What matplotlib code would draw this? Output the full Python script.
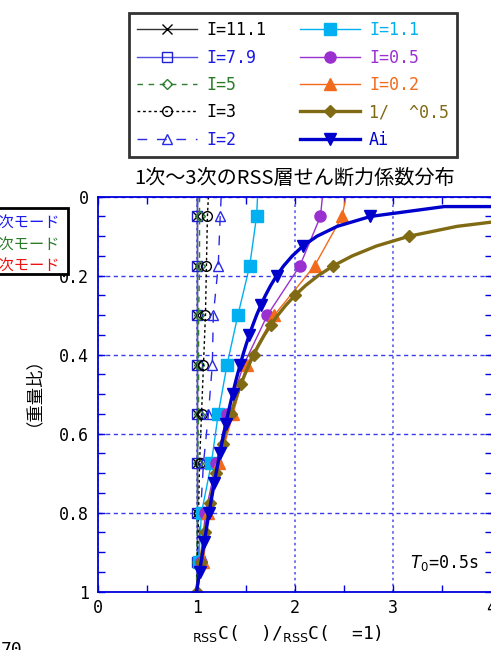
import matplotlib
matplotlib.use('Agg')
import matplotlib.pyplot as plt
from matplotlib.patches import Rectangle
from matplotlib.ticker import MultipleLocator

plt.rcParams['font.family'] = ['DejaVu Sans Mono', 'Noto Sans CJK JP']
plt.rcParams['mathtext.fontset'] = 'dejavusans'
CJK = ['Noto Sans CJK JP', 'DejaVu Sans']

# floor levels (weight ratio alpha) for the RSS results
alpha_i = [0.0, 0.05, 0.175, 0.3, 0.425, 0.55, 0.675, 0.8, 0.925, 1.0]
c_i111 = [1.0, 1.0, 1.0, 1.0, 1.0, 1.0, 1.0, 1.0, 1.0, 1.0]
c_i79 = [1.0, 1.0, 1.0, 1.0, 1.0, 1.0, 1.0, 1.0, 1.0, 1.0]
c_i5 = [1.03, 1.03, 1.03, 1.02, 1.02, 1.02, 1.01, 1.01, 1.0, 1.0]
c_i3 = [1.12, 1.11, 1.10, 1.09, 1.07, 1.05, 1.03, 1.02, 1.01, 1.0]
c_i2 = [1.25, 1.24, 1.22, 1.17, 1.16, 1.12, 1.07, 1.04, 1.02, 1.0]
c_i11 = [1.62, 1.61, 1.54, 1.42, 1.31, 1.22, 1.15, 1.05, 1.02, 1.0]
c_i05 = [2.28, 2.26, 2.05, 1.72, 1.48, 1.31, 1.20, 1.09, 1.04, 1.0]
c_i02 = [2.52, 2.48, 2.20, 1.79, 1.51, 1.37, 1.23, 1.12, 1.07, 1.0]

# reference curves
alpha_c = [0.025, 0.05, 0.075, 0.1, 0.125, 0.15, 0.175, 0.2, 0.225, 0.25,
           0.275, 0.3, 0.325, 0.35, 0.375, 0.4, 0.425, 0.45, 0.475, 0.5,
           0.525, 0.55, 0.575, 0.6, 0.625, 0.65, 0.675, 0.7, 0.725, 0.75,
           0.775, 0.8, 0.825, 0.85, 0.875, 0.9, 0.925, 0.95, 0.975, 1.0]
c_sqrt = [6.325, 4.472, 3.651, 3.162, 2.828, 2.582, 2.390, 2.236, 2.108, 2.000,
          1.907, 1.826, 1.754, 1.690, 1.633, 1.581, 1.534, 1.491, 1.451, 1.414,
          1.380, 1.348, 1.319, 1.291, 1.265, 1.240, 1.217, 1.195, 1.174, 1.155,
          1.136, 1.118, 1.101, 1.085, 1.069, 1.054, 1.040, 1.026, 1.013, 1.000]
alpha_ai = [0.025] + alpha_c
c_ai = [5.0, 3.520, 2.769, 2.431, 2.225, 2.081, 1.973, 1.886, 1.814, 1.753, 1.700,
        1.653, 1.610, 1.572, 1.536, 1.503, 1.472, 1.444, 1.416, 1.390, 1.366,
        1.342, 1.319, 1.298, 1.276, 1.256, 1.236, 1.217, 1.198, 1.180, 1.162,
        1.144, 1.127, 1.110, 1.094, 1.078, 1.062, 1.046, 1.030, 1.015, 1.000]

xticks = [0, 1, 2, 3, 4]
yticks = [0, 0.2, 0.4, 0.6, 0.8, 1]
ytick_labels = ['0', '0.2', '0.4', '0.6', '0.8', '1']
mode_labels = ['1次モード', '2次モード', '3次モード']

fig = plt.figure(figsize=(4.91, 6.5), dpi=100)
ax = fig.add_axes([98.3 / 491, 58.3 / 650, 393.2 / 491, 395 / 650])

mk = slice(1, 9)
ax.plot(c_i111, alpha_i, color='#333333', lw=1, marker='x', ms=7, mec='black',
        markevery=mk, label='I=11.1')
ax.plot(c_i79, alpha_i, color='#5050e0', lw=1, marker='s', ms=7, mfc='none',
        mec='#2020d0', markevery=mk, label='I=7.9')
ax.plot(c_i5, alpha_i, color='#2e7d32', lw=1, ls=(0, (4, 4)), marker='D', ms=5.5,
        mfc='none', mec='#2e7d32', markevery=mk, label='I=5')
ax.plot(c_i3, alpha_i, color='black', lw=1, ls=(0, (2, 2)), marker='o', ms=7,
        mfc='none', mec='black', markevery=mk, label='I=3')
ax.plot(c_i2, alpha_i, color='#2a2ae6', lw=1, ls=(0, (7, 7)), marker='^', ms=7,
        mfc='none', mec='#2a2ae6', markevery=mk, label='I=2')
ax.plot(c_i11, alpha_i, color='#00b0f0', lw=1, marker='s', ms=8,
        markevery=mk, label='I=1.1')
ax.plot(c_i05, alpha_i, color='#9b30d0', lw=1, marker='o', ms=8,
        markevery=mk, label='I=0.5')
ax.plot(c_i02, alpha_i, color='#f26a1b', lw=1, marker='^', ms=8,
        markevery=mk, label='I=0.2')
ax.plot(c_sqrt, alpha_c, color='#806a14', lw=2.4, marker='D', ms=6.5,
        markevery=slice(0, None, 3), label='1/  ^0.5')
ax.plot(c_ai, alpha_ai, color='#0000cc', lw=2.4, marker='v', ms=8,
        markevery=slice(2, None, 3), label='Ai')

ax.set_xlim(0, 4)
ax.set_ylim(1, 0)
ax.set_xticks(xticks)
ax.set_yticks(yticks)
ax.set_yticklabels(ytick_labels)
ax.xaxis.set_minor_locator(MultipleLocator(0.5))
ax.yaxis.set_minor_locator(MultipleLocator(0.05))
ax.tick_params(which='both', direction='in', top=True, right=True,
               color='#0000dd', length=5, width=1, labelsize=12)
ax.tick_params(axis='y', pad=7)
ax.tick_params(axis='x', pad=5)
for s in ax.spines.values():
    s.set_color('#0000dd')
    s.set_linewidth(1.3)
ax.xaxis.grid(True, color='#5a5aee', ls=(0, (1.5, 2)), lw=1.2)
ax.yaxis.grid(True, color='#3a3aee', ls=(0, (3, 2.5)), lw=1)

ax.text(3.87, 0.927, r'$T_0$=0.5s', ha='right', va='center', fontsize=12)

colors = ['black', '#1a1ae6', '#2a7a2a', 'black', '#1a1ae6',
          '#00b0f0', '#9b30d0', '#f26a1b', '#806a14', '#0000cc']
leg = fig.legend(loc='upper left', bbox_to_anchor=(129 / 491, 1 - 13 / 650),
                 ncol=2, fontsize=12, handlelength=3.6, handletextpad=0.55,
                 columnspacing=2.0, labelspacing=0.56, borderpad=0.5,
                 borderaxespad=0, fancybox=False, edgecolor='black')
leg.get_frame().set_linewidth(2)
for t, c in zip(leg.get_texts(), colors):
    t.set_color(c)

fig.text(295 / 491, 1 - 178 / 650, '1次～3次のRSS層せん断力係数分布',
         ha='center', va='center', fontsize=14.5, family=CJK)
fig.text(24 / 491, 1 - 383 / 650, '（重量比）', rotation=90,
         ha='center', va='center', fontsize=12.5, family=CJK)
fig.text(287 / 491, 1 - 633 / 650,
         r'${}_{\mathrm{RSS}}$C(  )/${}_{\mathrm{RSS}}$C(  =1)',
         ha='center', va='center', fontsize=13)

# side box of the neighbouring chart (cut off)
fig.patches.append(Rectangle((-20 / 491, 1 - 274 / 650), 88 / 491, 66 / 650,
                             transform=fig.transFigure, fc='white',
                             ec='black', lw=2, zorder=2))
for lbl, c, y in zip(mode_labels, ['#1a1aee', '#2a7a2a', '#ee1111'], [223, 245, 266]):
    fig.text(60 / 491, 1 - y / 650, lbl, color=c, ha='right', va='center',
             fontsize=11, family=CJK, zorder=3)
fig.text(1 / 491, 1 - 641 / 650, '70', ha='left', va='top', fontsize=13)

fig.savefig('out.png', dpi=100)
